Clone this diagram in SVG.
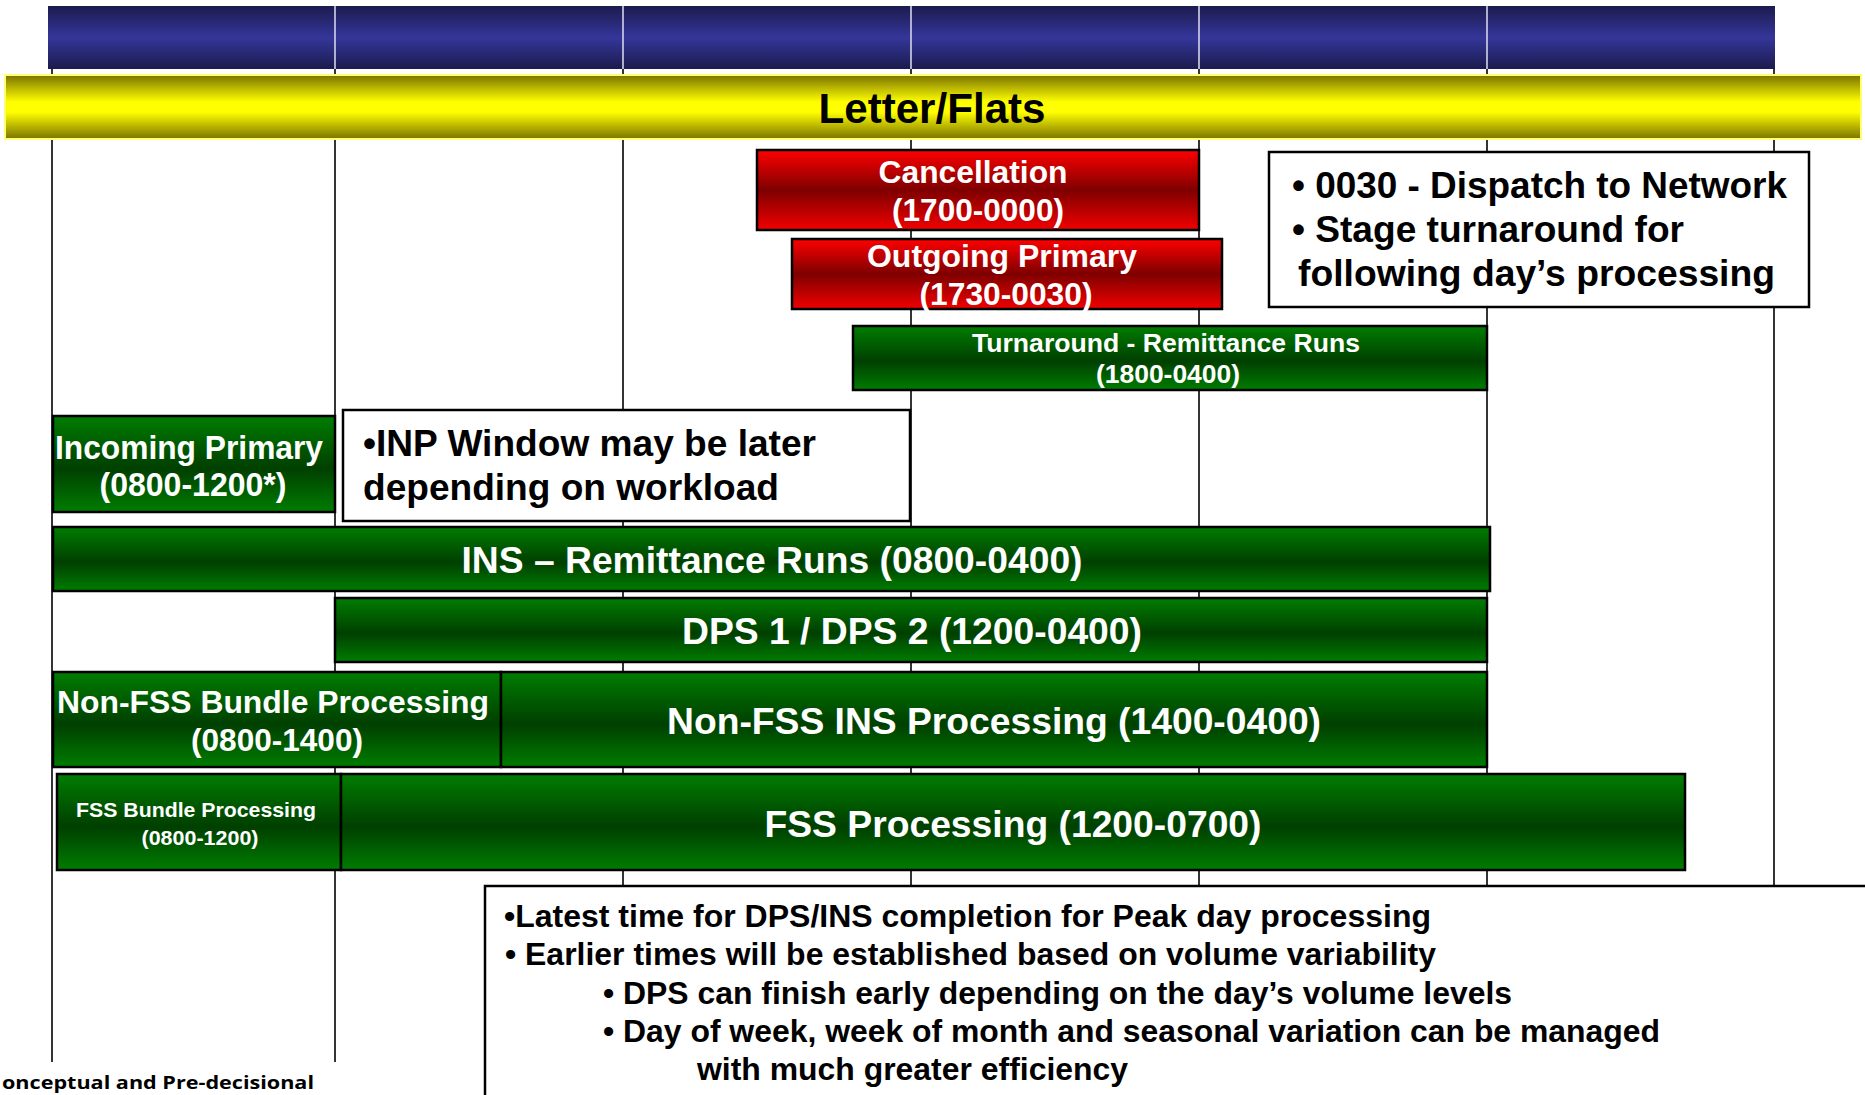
<svg xmlns="http://www.w3.org/2000/svg" width="1865" height="1095" viewBox="0 0 1865 1095">
<defs>
<linearGradient id="gBlue" x1="0" y1="0" x2="0" y2="1"><stop offset="0" stop-color="#1b1b4e"/><stop offset="0.5" stop-color="#35369a"/><stop offset="1" stop-color="#1b1b4e"/></linearGradient>
<linearGradient id="gYel" x1="0" y1="0" x2="0" y2="1"><stop offset="0" stop-color="#7a7200"/><stop offset="0.42" stop-color="#ffff00"/><stop offset="0.58" stop-color="#ffff00"/><stop offset="1" stop-color="#7a7200"/></linearGradient>
<linearGradient id="gRed" x1="0" y1="0" x2="0" y2="1"><stop offset="0" stop-color="#ff0000"/><stop offset="0.5" stop-color="#7e0000"/><stop offset="1" stop-color="#f20000"/></linearGradient>
<linearGradient id="gGreen" x1="0" y1="0" x2="0" y2="1"><stop offset="0" stop-color="#007d00"/><stop offset="0.55" stop-color="#003f00"/><stop offset="1" stop-color="#007d00"/></linearGradient>
</defs>
<style>
.t{font-family:"Liberation Sans",Arial,sans-serif;font-weight:bold}
.w{fill:#ffffff}
.k{fill:#000000}
.m{text-anchor:middle}
.red{fill:url(#gRed);stroke:#000;stroke-width:2.5}
.grn{fill:url(#gGreen);stroke:#000;stroke-width:2.5}
.note{fill:#ffffff;stroke:#000;stroke-width:2.5}
.gl{stroke:#000;stroke-width:1.6}
.div{stroke:#d4d4ea;stroke-width:1.6}
</style>
<rect width="1865" height="1095" fill="#ffffff"/>
<g id="header">
<rect x="48" y="6" width="1727" height="63" fill="url(#gBlue)"/>
<line class="div" x1="335" y1="6" x2="335" y2="69"/>
<line class="div" x1="623" y1="6" x2="623" y2="69"/>
<line class="div" x1="911" y1="6" x2="911" y2="69"/>
<line class="div" x1="1199" y1="6" x2="1199" y2="69"/>
<line class="div" x1="1487" y1="6" x2="1487" y2="69"/>
</g>
<g id="connectors">
<line class="gl" x1="52" y1="69" x2="52" y2="1062"/>
<line class="gl" x1="335" y1="69" x2="335" y2="1062"/>
<line class="gl" x1="623" y1="69" x2="623" y2="886"/>
<line class="gl" x1="911" y1="69" x2="911" y2="886"/>
<line class="gl" x1="1199" y1="69" x2="1199" y2="886"/>
<line class="gl" x1="1487" y1="69" x2="1487" y2="886"/>
<line class="gl" x1="1774" y1="69" x2="1774" y2="886"/>
</g>
<g id="letter-flats">
<rect x="5" y="75" width="1856" height="64" fill="url(#gYel)" stroke="#ffff70" stroke-width="2"/>
<text class="t k m" x="932" y="123" font-size="42" textLength="227" lengthAdjust="spacingAndGlyphs">Letter/Flats</text>
</g>
<g id="cancellation">
<rect class="red" x="757" y="150" width="442" height="80"/>
<text class="t w m" x="973" y="183" font-size="32" textLength="189" lengthAdjust="spacingAndGlyphs">Cancellation</text>
<text class="t w m" x="978" y="221" font-size="32" textLength="172" lengthAdjust="spacingAndGlyphs">(1700-0000)</text>
</g>
<g id="outgoing-primary">
<rect class="red" x="792" y="239" width="430" height="70"/>
<text class="t w m" x="1002" y="267" font-size="32" textLength="270" lengthAdjust="spacingAndGlyphs">Outgoing Primary</text>
<text class="t w m" x="1006" y="305" font-size="32" textLength="173" lengthAdjust="spacingAndGlyphs">(1730-0030)</text>
</g>
<g id="dispatch-note">
<rect class="note" x="1269" y="152" width="540" height="155"/>
<text class="t k" x="1292" y="198" font-size="37" textLength="495" lengthAdjust="spacingAndGlyphs">• 0030 - Dispatch to Network</text>
<text class="t k" x="1292" y="242" font-size="37" textLength="392" lengthAdjust="spacingAndGlyphs">• Stage turnaround for</text>
<text class="t k" x="1298" y="286" font-size="37" textLength="477" lengthAdjust="spacingAndGlyphs">following day’s processing</text>
</g>
<g id="turnaround">
<rect class="grn" x="853" y="326" width="634" height="64"/>
<text class="t w m" x="1166" y="352" font-size="26.5" textLength="388" lengthAdjust="spacingAndGlyphs">Turnaround - Remittance Runs</text>
<text class="t w m" x="1168" y="383" font-size="26.5" textLength="144" lengthAdjust="spacingAndGlyphs">(1800-0400)</text>
</g>
<g id="incoming-primary">
<rect class="grn" x="53" y="416" width="282" height="96"/>
<text class="t w m" x="189" y="459" font-size="34" textLength="268" lengthAdjust="spacingAndGlyphs">Incoming Primary</text>
<text class="t w m" x="193" y="496" font-size="34" textLength="187" lengthAdjust="spacingAndGlyphs">(0800-1200*)</text>
</g>
<g id="inp-note">
<rect class="note" x="343" y="410" width="567" height="111"/>
<text class="t k" x="363" y="456" font-size="37" textLength="453" lengthAdjust="spacingAndGlyphs">•INP Window may be later</text>
<text class="t k" x="363" y="500" font-size="37" textLength="416" lengthAdjust="spacingAndGlyphs">depending on workload</text>
</g>
<g id="ins-remittance">
<rect class="grn" x="53" y="527" width="1437" height="64"/>
<text class="t w m" x="772" y="573" font-size="37" textLength="621" lengthAdjust="spacingAndGlyphs">INS – Remittance Runs (0800-0400)</text>
</g>
<g id="dps">
<rect class="grn" x="335" y="598" width="1152" height="64"/>
<text class="t w m" x="912" y="644" font-size="37" textLength="460" lengthAdjust="spacingAndGlyphs">DPS 1 / DPS 2 (1200-0400)</text>
</g>
<g id="non-fss-bundle">
<rect class="grn" x="53" y="672" width="448" height="95"/>
<text class="t w m" x="273" y="713" font-size="32" textLength="432" lengthAdjust="spacingAndGlyphs">Non-FSS Bundle Processing</text>
<text class="t w m" x="277" y="751" font-size="32" textLength="172" lengthAdjust="spacingAndGlyphs">(0800-1400)</text>
</g>
<g id="non-fss-ins">
<rect class="grn" x="501" y="672" width="986" height="95"/>
<text class="t w m" x="994" y="734" font-size="37" textLength="654" lengthAdjust="spacingAndGlyphs">Non-FSS INS Processing (1400-0400)</text>
</g>
<g id="fss-bundle">
<rect class="grn" x="57" y="774" width="284" height="96"/>
<text class="t w m" x="196" y="817" font-size="21" textLength="240" lengthAdjust="spacingAndGlyphs">FSS Bundle Processing</text>
<text class="t w m" x="200" y="845" font-size="21" textLength="117" lengthAdjust="spacingAndGlyphs">(0800-1200)</text>
</g>
<g id="fss-processing">
<rect class="grn" x="341" y="774" width="1344" height="96"/>
<text class="t w m" x="1013" y="837" font-size="37" textLength="497" lengthAdjust="spacingAndGlyphs">FSS Processing (1200-0700)</text>
</g>
<g id="peak-note">
<rect class="note" x="485" y="886" width="1400" height="260"/>
<text class="t k" x="504" y="927" font-size="32" textLength="927" lengthAdjust="spacingAndGlyphs">•Latest time for DPS/INS completion for Peak day processing</text>
<text class="t k" x="505" y="965" font-size="32" textLength="931" lengthAdjust="spacingAndGlyphs">• Earlier times will be established based on volume variability</text>
<text class="t k" x="603" y="1004" font-size="32" textLength="909" lengthAdjust="spacingAndGlyphs">• DPS can finish early depending on the day’s volume levels</text>
<text class="t k" x="603" y="1042" font-size="32" textLength="1057" lengthAdjust="spacingAndGlyphs">• Day of week, week of month and seasonal variation can be managed</text>
<text class="t k" x="697" y="1080" font-size="32" textLength="431" lengthAdjust="spacingAndGlyphs">with much greater efficiency</text>
</g>
<g id="footer">
<text x="2" y="1089" font-family="'Open Sans','Noto Sans',sans-serif" font-weight="bold" font-size="18" fill="#000" textLength="312" lengthAdjust="spacingAndGlyphs">onceptual and Pre-decisional</text>
</g>
</svg>
